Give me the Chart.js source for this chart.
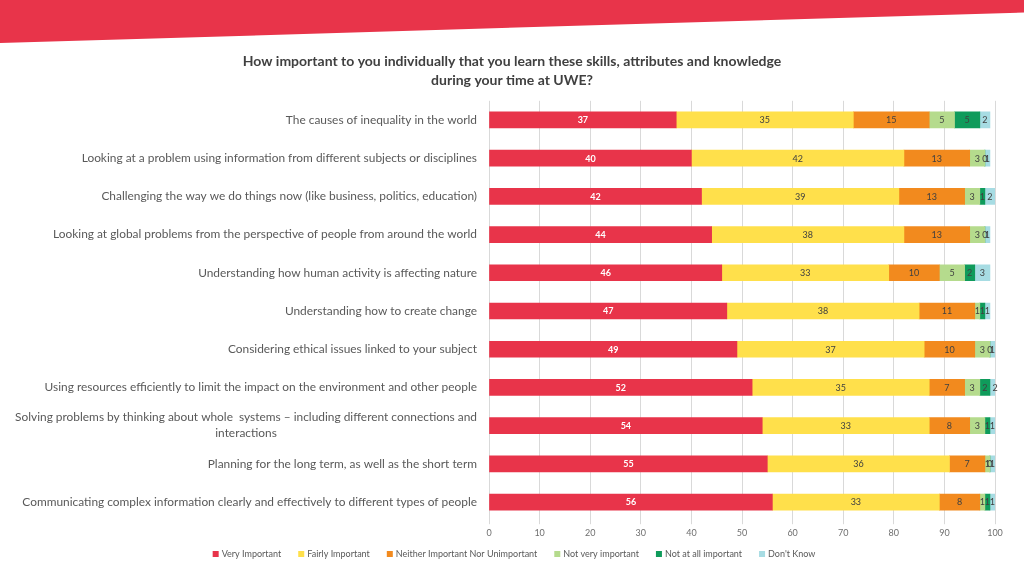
<!DOCTYPE html>
<html>
<head>
<meta charset="utf-8">
<script src="https://cdn.jsdelivr.net/npm/chart.js@4/dist/chart.umd.min.js"></script>
<style>
  html, body { margin: 0; padding: 0; background: #fff; }
  #wrap { position: relative; width: 1024px; height: 576px; overflow: hidden; }
  #banner {
    position: absolute; left: 0; top: 0; width: 1024px; height: 44px;
    background: #E8344A;
    clip-path: polygon(0 0, 100% 0, 100% 12.5px, 0 43px);
  }
  #chart { position: absolute; left: 0; top: 0; }
</style>
</head>
<body>
<div id="wrap">
  <div id="banner"></div>
  <canvas id="chart" width="1024" height="576"></canvas>
</div>
<script>
// the questions, top to bottom
const skills = [
  "The causes of inequality in the world",
  "Looking at a problem using information from different subjects or disciplines",
  "Challenging the way we do things now (like business, politics, education)",
  "Looking at global problems from the perspective of people from around the world",
  "Understanding how human activity is affecting nature",
  "Understanding how to create change",
  "Considering ethical issues linked to your subject",
  "Using resources efficiently to limit the impact on the environment and other people",
  ["Solving problems by thinking about whole  systems \u2013 including different connections and", "interactions"],
  "Planning for the long term, as well as the short term",
  "Communicating complex information clearly and effectively to different types of people"
];

// answers in %
const veryImportant   = [37, 40, 42, 44, 46, 47, 49, 52, 54, 55, 56];
const fairlyImportant = [35, 42, 39, 38, 33, 38, 37, 35, 33, 36, 33];
const neitherNor      = [15, 13, 13, 13, 10, 11, 10, 7, 8, 7, 8];
const notVery         = [5, 3, 3, 3, 5, 1, 3, 3, 3, 1, 1];
const notAtAll        = [5, 0, 1, 0, 2, 1, 0, 2, 1, 0, 1];
const dontKnow        = [2, 1, 2, 1, 3, 1, 1, 2, 1, 1, 1];

const xTicks = [0, 10, 20, 30, 40, 50, 60, 70, 80, 90, 100];

const FONT = "Lato, 'Open Sans', sans-serif";
const GREY = "#595959";

// little homemade datalabels, since we only have plain Chart.js here
const barLabels = {
  id: "barLabels",
  afterDatasetsDraw(chart) {
    const ctx = chart.ctx;
    ctx.save();
    ctx.textAlign = "center";
    ctx.textBaseline = "middle";
    chart.data.datasets.forEach((ds, i) => {
      const meta = chart.getDatasetMeta(i);
      meta.data.forEach((bar, j) => {
        const p = bar.getProps(["x", "base", "y"], true);
        const cx = (p.x + p.base) / 2;
        if (i === 0) {
          ctx.fillStyle = "#fff";
          ctx.font = "bold 9px " + FONT;
        } else {
          ctx.fillStyle = "#404040";
          ctx.font = "9px " + FONT;
        }
        ctx.fillText(ds.data[j], cx, p.y + 0.5);
      });
    });
    ctx.restore();
  }
};

// category labels: right edge at the axis, wrapped lines centred as a block
const skillLabels = {
  id: "skillLabels",
  afterDraw(chart) {
    const ctx = chart.ctx;
    const y = chart.scales.y;
    const right = chart.chartArea.left - 12;
    ctx.save();
    ctx.font = "11.9px " + FONT;
    ctx.fillStyle = GREY;
    ctx.textBaseline = "middle";
    ctx.textAlign = "center";
    skills.forEach((lab, i) => {
      const lines = Array.isArray(lab) ? lab : [lab];
      const w = Math.max(...lines.map(l => ctx.measureText(l).width));
      const cx = right - w / 2;
      const lh = 16;
      const cy = y.getPixelForValue(i);
      const top = cy - (lines.length - 1) * lh / 2;
      lines.forEach((l, k) => ctx.fillText(l, cx, top + k * lh));
    });
    ctx.restore();
  }
};

// legend drawn by hand so it sits exactly where the original has it
const bottomLegend = {
  id: "bottomLegend",
  afterDraw(chart) {
    const ctx = chart.ctx;
    const sets = chart.data.datasets;
    const box = 6, gapBox = 3, gapItem = 17, cy = 554;
    ctx.save();
    ctx.font = "9px " + FONT;
    ctx.textBaseline = "middle";
    ctx.textAlign = "left";
    const widths = sets.map(ds => box + gapBox + ctx.measureText(ds.label).width);
    const total = widths.reduce((a, b) => a + b, 0) + gapItem * (sets.length - 1);
    let x = 514 - total / 2;
    sets.forEach((ds, i) => {
      ctx.fillStyle = ds.backgroundColor;
      ctx.fillRect(x, cy - box / 2, box, box);
      ctx.fillStyle = GREY;
      ctx.fillText(ds.label, x + box + gapBox, cy + 0.5);
      x += widths[i] + gapItem;
    });
    ctx.restore();
  }
};

const mkSet = (label, data, color) => ({
  label, data, backgroundColor: color, borderWidth: 0,
  barThickness: 16
});

new Chart(document.getElementById("chart"), {
  type: "bar",
  data: {
    labels: skills,
    datasets: [
      mkSet("Very Important", veryImportant, "#E8344A"),
      mkSet("Fairly Important", fairlyImportant, "#FFE04B"),
      mkSet("Neither Important Nor Unimportant", neitherNor, "#F28A1E"),
      mkSet("Not very important", notVery, "#B5DB8D"),
      mkSet("Not at all important", notAtAll, "#0F9B5B"),
      mkSet("Don't Know", dontKnow, "#A7DCE3")
    ]
  },
  options: {
    indexAxis: "y",
    responsive: false,
    animation: false,
    layout: { padding: { left: 29, right: 29, top: 0, bottom: 35 } },
    scales: {
      x: {
        stacked: true,
        min: 0,
        max: 100,
        afterBuildTicks: s => { s.ticks = xTicks.map(v => ({ value: v })); },
        grid: { color: "#d9d9d9", tickLength: 3 },
        border: { display: false },
        ticks: { color: "#6f6f6f", font: { family: FONT, size: 9 }, padding: 3 }
      },
      y: {
        stacked: true,
        grid: { display: false },
        border: { display: false },
        ticks: { display: false },
        afterFit: s => { s.width = 460; }
      }
    },
    plugins: {
      title: {
        display: true,
        text: [
          "How important to you individually that you learn these skills, attributes and knowledge",
          "during your time at UWE?"
        ],
        color: "#404040",
        font: { family: FONT, size: 14, weight: "bold", lineHeight: 1.35 },
        padding: { top: 52, bottom: 11 }
      },
      legend: { display: false },
      tooltip: { enabled: false }
    }
  },
  plugins: [barLabels, skillLabels, bottomLegend]
});
</script>
</body>
</html>
